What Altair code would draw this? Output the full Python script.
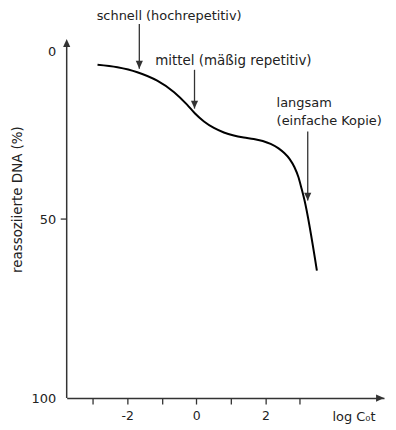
import altair as alt
import pandas as pd

# Curve (log C0t vs. reassociated DNA %)
curve_x = [-2.862, -2.285, -1.709, -1.133, -0.643, -0.268, -0.037, 0.222, 0.510, 0.798,
           1.086, 1.375, 1.663, 1.925, 2.153, 2.383, 2.556, 2.700, 2.844, 2.960,
           3.046, 3.133, 3.493]
curve_y = [4.37, 5.17, 6.74, 9.38, 12.89, 16.66, 19.34, 21.71, 23.63, 24.95,
           25.83, 26.42, 26.86, 27.44, 28.31, 29.62, 31.07, 32.67, 35.12, 38.00,
           41.15, 44.58, 64.61]

# Annotation arrows
arrow_x = [-1.651, -0.052, 3.228]
arrow_top = [-9.07, 5.96, 24.66]
arrow_tip = [5.64, 17.86, 44.72]

# Annotation texts
label_text = ["schnell (hochrepetitiv)", "mittel (mäßig repetitiv)", "langsam", "(einfache Kopie)"]
label_x = [-0.787, -1.190, 2.326, 2.326]
label_y = [-11.68, 3.08, 16.21, 21.42]
label_size = [13, 13.5, 13, 13]
label_align = ["center", "left", "left", "left"]

x_ticks = [-3, -2, -1, 0, 1, 2, 3]
y_ticks = [0, 50, 100]

W, H = 319, 383
FONT = "DejaVu Sans"
INK = "#222222"
AX = "#333333"

xs = alt.Scale(domain=[-3.755, 5.438], nice=False, zero=False)
ys = alt.Scale(type="pow", exponent=1.05, domain=[0, 100], range=[35, 383], nice=False, zero=False)

curve_df = pd.DataFrame({"x": curve_x, "y": curve_y})
arrow_df = pd.DataFrame({"x": arrow_x, "top": arrow_top, "tip": arrow_tip})
label_df = pd.DataFrame({"t": label_text, "x": label_x, "y": label_y,
                         "s": label_size, "a": label_align})

base_x = alt.X("x:Q", scale=xs, axis=alt.Axis(
    values=x_ticks, tickSize=6, tickColor=AX, tickWidth=1.3,
    domainColor=AX, domainWidth=1.5, grid=False,
    labelExpr="datum.value % 2 == 0 ? '' + datum.value : ''",
    labelFont=FONT, labelFontSize=12.5, labelColor=INK, labelPadding=6,
    title="log C₀t", titleFont=FONT, titleFontSize=13, titleFontWeight="normal",
    titleColor=INK, titleX=310, titleY=19, titleAlign="right", titleBaseline="middle",
    titleAnchor="end"))
base_y = alt.Y("y:Q", scale=ys, axis=alt.Axis(
    values=y_ticks, ticks=False, domain=False, grid=False,
    labelFont=FONT, labelFontSize=13, labelColor=INK, labelPadding=11,
    title="reassoziierte DNA (%)", titleFont=FONT, titleFontSize=13.5,
    titleFontWeight="normal", titleColor=INK, titleX=-49, titleY=183,
    titleAngle=270, titleAlign="center", titleBaseline="middle"))

curve = alt.Chart(curve_df).mark_line(
    color="black", strokeWidth=2, interpolate="monotone").encode(x=base_x, y=base_y)

arrows = alt.Chart(arrow_df).mark_rule(color=AX, strokeWidth=1.3).encode(
    x=alt.X("x:Q", scale=xs), y=alt.Y("top:Q", scale=ys), y2="tip:Q")
heads = alt.Chart(arrow_df).mark_point(
    shape="M-0.9,-1L0.9,-1L0,1Z", size=64, filled=True, color=AX, opacity=1, yOffset=-4
).encode(x=alt.X("x:Q", scale=xs), y=alt.Y("tip:Q", scale=ys))

texts_c = alt.Chart(label_df[label_df.a == "center"]).mark_text(
    font=FONT, color=INK, align="center", baseline="middle"
).encode(x=alt.X("x:Q", scale=xs), y=alt.Y("y:Q", scale=ys), text="t:N",
         size=alt.Size("s:Q", scale=None, legend=None))
texts_l = alt.Chart(label_df[label_df.a == "left"]).mark_text(
    font=FONT, color=INK, align="left", baseline="middle"
).encode(x=alt.X("x:Q", scale=xs), y=alt.Y("y:Q", scale=ys), text="t:N",
         size=alt.Size("s:Q", scale=None, legend=None))

# y axis line, 50 tick and axis arrowheads (decorations)
yline = alt.Chart(pd.DataFrame({"k": [0]})).mark_rule(color=AX, strokeWidth=1.5).encode(
    x=alt.value(0), y=alt.value(26), y2=alt.value(H))
ytick = alt.Chart(pd.DataFrame({"v": [50]})).mark_rule(color=AX, strokeWidth=1.3).encode(
    x=alt.value(-6), x2=alt.value(0), y=alt.Y("v:Q", scale=ys))
yhead = alt.Chart(pd.DataFrame({"k": [0]})).mark_point(
    shape="M-0.9,1L0.9,1L0,-1Z", size=64, filled=True, color=AX, opacity=1).encode(
    x=alt.value(0), y=alt.value(26))
xhead = alt.Chart(pd.DataFrame({"k": [0]})).mark_point(
    shape="M-1,-0.9L-1,0.9L1,0Z", size=64, filled=True, color=AX, opacity=1).encode(
    x=alt.value(W - 4), y=alt.value(H))

chart = alt.layer(curve, arrows, heads, texts_c, texts_l, yline, ytick, yhead, xhead).properties(
    width=W, height=H,
    autosize=alt.AutoSizeParams(type="none"),
    padding={"left": 59, "top": 8, "right": 4, "bottom": 31},
    background="white",
).configure_view(stroke=None)

chart.save("out.html", embed_options={"renderer": "svg", "actions": False})
